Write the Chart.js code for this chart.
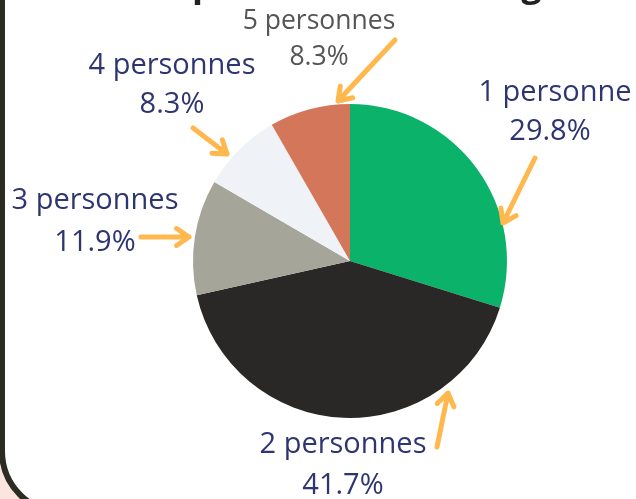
<!DOCTYPE html>
<html>
<head>
<meta charset="utf-8">
<script src="https://cdn.jsdelivr.net/npm/chart.js@4.4.1/dist/chart.umd.min.js"></script>
<style>
  html, body { margin: 0; padding: 0; background: #fde4df; }
  #wrap { width: 636px; height: 499px; }
</style>
</head>
<body>
<div id="wrap"><canvas id="pie" width="636" height="499"></canvas></div>
<script>
// household size distribution (%)
const categories = ["1 personne", "2 personnes", "3 personnes", "4 personnes", "5 personnes"];
const shares = [29.8, 41.7, 11.9, 8.3, 8.3];
const sliceColors = ["#0bb269", "#2a2826", "#a5a599", "#eff3f7", "#d4765a"];

// where each label sits and where its arrow goes
const labelSpots = [
    { text: [555, 93], pct: [550, 132], from: [535, 158], to: [503, 223], color: "#2f3570", size: 29 },
    { text: [343, 445], pct: [343, 486], from: [437, 447], to: [448, 393], color: "#2f3570", size: 29 },
    { text: [95, 201], pct: [95, 243], from: [141, 237], to: [189, 237], color: "#2f3570", size: 29 },
    { text: [172, 66], pct: [172, 105], from: [193, 128], to: [227, 154], color: "#2f3570", size: 29 },
    { text: [319, 21], pct: [319, 57], from: [395, 40], to: [338, 101], color: "#555555", size: 26.5 },
];

function drawArrow(ctx, a, b) {
    const ang = Math.atan2(b[1] - a[1], b[0] - a[0]);
    const head = 15;
    ctx.beginPath();
    ctx.moveTo(a[0], a[1]);
    ctx.lineTo(b[0], b[1]);
    ctx.moveTo(b[0] - head * Math.cos(ang - 0.6), b[1] - head * Math.sin(ang - 0.6));
    ctx.lineTo(b[0], b[1]);
    ctx.lineTo(b[0] - head * Math.cos(ang + 0.6), b[1] - head * Math.sin(ang + 0.6));
    ctx.stroke();
}

const frame = {
    id: "frame",
    beforeDraw(chart) {
        const ctx = chart.ctx;
        ctx.save();
        ctx.fillStyle = "#fde4df";
        ctx.fillRect(0, 0, chart.width, chart.height);
        ctx.beginPath();
        ctx.roundRect(2, -120, 760, 633, 62);
        ctx.fillStyle = "#ffffff";
        ctx.fill();
        ctx.lineWidth = 6;
        ctx.strokeStyle = "#2d2c22";
        ctx.stroke();
        // title, mostly cut off above
        ctx.fillStyle = "#222222";
        ctx.font = "bold 36px 'Open Sans'";
        ctx.textAlign = "center";
        ctx.textBaseline = "alphabetic";
        ctx.fillText("Composition des ménages", 346, -4);
        ctx.restore();
    },
    afterDraw(chart) {
        const ctx = chart.ctx;
        ctx.save();
        ctx.textAlign = "center";
        ctx.textBaseline = "middle";
        labelSpots.forEach((s, i) => {
            ctx.font = s.size + "px 'Open Sans'";
            ctx.fillStyle = s.color;
            ctx.fillText(categories[i], s.text[0], s.text[1]);
            ctx.fillText(shares[i].toFixed(1) + "%", s.pct[0], s.pct[1]);
            ctx.strokeStyle = "#ffb84d";
            ctx.lineWidth = 5;
            ctx.lineCap = "round";
            ctx.lineJoin = "round";
            drawArrow(ctx, s.from, s.to);
        });
        ctx.restore();
    }
};

new Chart(document.getElementById("pie"), {
    type: "pie",
    data: {
        labels: categories,
        datasets: [{
            data: shares,
            backgroundColor: sliceColors,
            borderWidth: 0,
        }],
    },
    options: {
        responsive: false,
        animation: false,
        layout: { padding: { left: 193, right: 129, top: 104, bottom: 81 } },
        plugins: {
            legend: { display: false },
            tooltip: { enabled: false },
        },
    },
    plugins: [frame],
});
</script>
</body>
</html>
